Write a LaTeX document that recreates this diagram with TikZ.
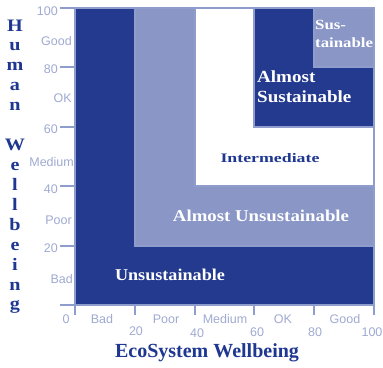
\documentclass[tikz,border=0pt]{standalone}
\usepackage{graphicx}
\usepackage{fontspec}
\setmainfont{Liberation Serif}
\newfontfamily\tickfont{Liberation Sans}
\definecolor{darkb}{RGB}{35,58,142}
\definecolor{lightb}{RGB}{137,150,198}
\definecolor{edgeb}{RGB}{143,157,205}
\definecolor{tickc}{RGB}{160,170,210}
\definecolor{titleb}{RGB}{30,55,145}
\begin{document}
\begin{tikzpicture}[x=1pt,y=-1pt,
  zone/.style={draw=edgeb,line width=2pt},
  axisline/.style={draw=edgeb,line width=2.5pt},
  tickmark/.style={draw=edgeb,line width=2pt},
  ticklab/.style={text=tickc,font=\tickfont\fontsize{12.5}{13}\selectfont,inner sep=0pt},
  zonelab/.style={text=white,font=\bfseries\fontsize{16.5}{20}\selectfont,inner sep=0pt},
  vletter/.style={text=titleb,font=\bfseries\fontsize{17.5}{18}\selectfont,inner sep=0pt,anchor=base},
]
\useasboundingbox (0,0) rectangle (383,367);
\fill[white] (0,0) rectangle (383,367);
% zones
\filldraw[zone,fill=darkb]  (75,8) rectangle (374,305);
\filldraw[zone,fill=lightb] (134.8,8) rectangle (374,246);
\filldraw[zone,fill=white]  (194.6,8) rectangle (374,186);
\filldraw[zone,fill=darkb]  (254.4,8) rectangle (374,127);
\filldraw[zone,fill=lightb] (314.2,8) rectangle (374,67);
% axes
\coordinate (ytop) at (75,8);
\coordinate (ybot) at (75,315);
\coordinate (xl) at (60,305);
\coordinate (xr) at (375,305);
\draw[axisline] (ytop) -- (ybot);
\draw[axisline] (xl) -- (xr);
\foreach \yy in {8,67,127,186,246}{
  \draw[tickmark] (60,\yy) -- (75,\yy);
}
\foreach \xx in {134.8,194.6,254.4,314.2,374}{
  \draw[tickmark] (\xx,305) -- (\xx,315);
}
% y tick labels
\node[ticklab,anchor=east] (y100) at (58,11) {100};
\node[ticklab,anchor=east] (ygood) at (72,41) {Good};
\node[ticklab,anchor=east] (y80) at (58,69) {80};
\node[ticklab,anchor=east] (yok) at (72,98) {OK};
\node[ticklab,anchor=east] (y60) at (58,129) {60};
\node[ticklab,anchor=east] (ymed) at (74,162) {Medium};
\node[ticklab,anchor=east] (y40) at (58,189) {40};
\node[ticklab,anchor=east] (ypoor) at (72,220) {Poor};
\node[ticklab,anchor=east] (y20) at (58,248) {20};
\node[ticklab,anchor=east] (ybad) at (73,279) {Bad};
% x tick labels
\node[ticklab] (x0) at (66,319) {0};
\node[ticklab] (xbad) at (102,319) {Bad};
\node[ticklab] (x20) at (136,331) {20};
\node[ticklab] (xpoor) at (166,319) {Poor};
\node[ticklab] (x40) at (197,333) {40};
\node[ticklab] (xmed) at (225,319) {Medium};
\node[ticklab] (x60) at (257,332) {60};
\node[ticklab] (xok) at (283,319) {OK};
\node[ticklab] (x80) at (315,332) {80};
\node[ticklab] (xgood) at (345,319) {Good};
\node[ticklab] (x100) at (372,332) {100};
% zone labels
\node[zonelab] (unsus) at (170,275) {\scalebox{1.1}[1]{Unsustainable}};
\node[zonelab] (almunsus) at (261,216) {\scalebox{1.14}[1]{Almost Unsustainable}};
\node[zonelab,text=titleb,font=\bfseries\fontsize{13}{15}\selectfont] (inter) at (270,158) {\scalebox{1.37}[1]{Intermediate}};
\node[zonelab,anchor=west,align=left,font=\bfseries\fontsize{17}{20}\selectfont] (almsus) at (257,87) {\scalebox{1.12}[1]{Almost}\\\scalebox{1.12}[1]{Sustainable}};
\node[zonelab,anchor=west,align=left,font=\bfseries\fontsize{14}{18}\selectfont] (sus) at (315,34) {\scalebox{1.2}[1]{Sus-}\\\scalebox{1.2}[1]{tainable}};
% axis titles
\node[text=titleb,font=\bfseries\fontsize{20}{22}\selectfont,inner sep=0pt] (xtitle) at (207,353) {EcoSystem Wellbeing};
\foreach \ch/\bl [count=\i] in {H/31,u/50.5,m/70,a/90,n/110,W/150,e/170,l/190,l/210,b/230,e/250,i/270,n/290,g/309}{
  \node[vletter] (v\i) at (15,\bl) {\scalebox{1.15}[1]{\ch}};
}
\end{tikzpicture}
\end{document}
